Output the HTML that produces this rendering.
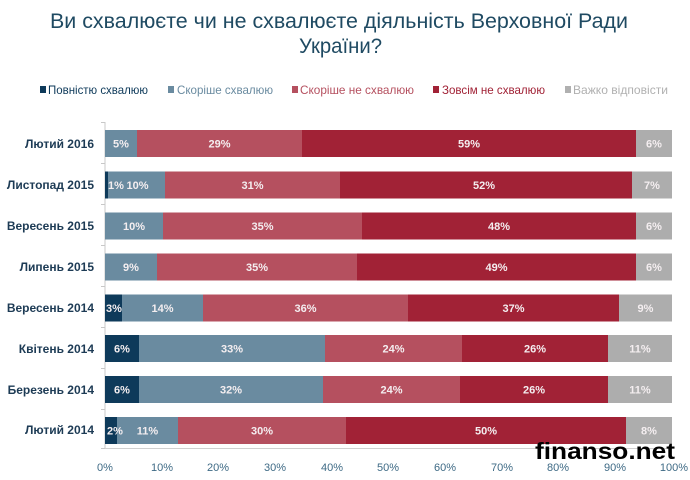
<!DOCTYPE html>
<html><head><meta charset="utf-8">
<style>
html,body{margin:0;padding:0;background:#fff;}
svg{display:block;}
text{font-family:"Liberation Sans","DejaVu Sans",sans-serif;}
</style></head>
<body>
<svg width="690" height="480" viewBox="0 0 690 480" xmlns="http://www.w3.org/2000/svg">
<rect width="690" height="480" fill="#fff"/>
<!-- Title -->
<text x="50" y="28" font-size="21" fill="#1f4a62" textLength="578" lengthAdjust="spacingAndGlyphs">Ви схвалюєте чи не схвалюєте діяльність Верховної Ради</text>
<text x="299" y="53" font-size="21" fill="#1f4a62" textLength="83" lengthAdjust="spacingAndGlyphs">України?</text>

<!-- Legend -->
<g font-size="12">
<rect x="40" y="86" width="6" height="7" fill="#0e3a5a"/>
<text x="48" y="94" fill="#0e3a5a" textLength="100" lengthAdjust="spacingAndGlyphs">Повністю схвалюю</text>
<rect x="168" y="86" width="6" height="7" fill="#6a8ba0"/>
<text x="177" y="94" fill="#6a8ba0" textLength="96" lengthAdjust="spacingAndGlyphs">Скоріше схвалюю</text>
<rect x="292" y="86" width="6" height="7" fill="#b5505f"/>
<text x="300" y="94" fill="#b5505f" textLength="114" lengthAdjust="spacingAndGlyphs">Скоріше не схвалюю</text>
<rect x="433" y="86" width="6" height="7" fill="#a12236"/>
<text x="442" y="94" fill="#a12236" textLength="103" lengthAdjust="spacingAndGlyphs">Зовсім не схвалюю</text>
<rect x="565" y="86" width="6" height="7" fill="#b0b0b0"/>
<text x="573" y="94" fill="#b0b0b0" textLength="95" lengthAdjust="spacingAndGlyphs">Важко відповісти</text>
</g>

<!-- Axes -->
<line x1="105" y1="122" x2="105" y2="449" stroke="#c8c8c8" stroke-width="1"/>
<line x1="105" y1="448.5" x2="672" y2="448.5" stroke="#d0d0d0" stroke-width="1"/>
<g stroke="#c8c8c8" stroke-width="1">
<line x1="101" y1="122.5" x2="105" y2="122.5"/>
<line x1="101" y1="163.5" x2="105" y2="163.5"/>
<line x1="101" y1="204.5" x2="105" y2="204.5"/>
<line x1="101" y1="245.5" x2="105" y2="245.5"/>
<line x1="101" y1="286.5" x2="105" y2="286.5"/>
<line x1="101" y1="327.5" x2="105" y2="327.5"/>
<line x1="101" y1="368.5" x2="105" y2="368.5"/>
<line x1="101" y1="409.5" x2="105" y2="409.5"/>
<line x1="101" y1="448.5" x2="105" y2="448.5"/>
</g>

<!-- Category labels -->
<g font-size="12" font-weight="bold" fill="#1d3b55" text-anchor="end">
<text x="94" y="148">Лютий 2016</text>
<text x="94" y="189">Листопад 2015</text>
<text x="94" y="230">Вересень 2015</text>
<text x="94" y="271">Липень 2015</text>
<text x="94" y="312">Вересень 2014</text>
<text x="94" y="353">Квітень 2014</text>
<text x="94" y="394">Березень 2014</text>
<text x="94" y="434">Лютий 2014</text>
</g>

<!-- Bars -->
<!-- Row 1 -->
<g>
<rect x="105" y="130" width="32" height="27" fill="#6a8ba0"/>
<rect x="137" y="130" width="165" height="27" fill="#b5505f"/>
<rect x="302" y="130" width="334" height="27" fill="#a12236"/>
<rect x="636" y="130" width="36" height="27" fill="#adadad"/>
</g>
<!-- Row 2 -->
<g>
<rect x="105" y="171.5" width="3" height="27" fill="#0e3a5a"/>
<rect x="108" y="171.5" width="57" height="27" fill="#6a8ba0"/>
<rect x="165" y="171.5" width="175" height="27" fill="#b5505f"/>
<rect x="340" y="171.5" width="292" height="27" fill="#a12236"/>
<rect x="632" y="171.5" width="40" height="27" fill="#adadad"/>
</g>
<!-- Row 3 -->
<g>
<rect x="105" y="212.5" width="58" height="27" fill="#6a8ba0"/>
<rect x="163" y="212.5" width="199" height="27" fill="#b5505f"/>
<rect x="362" y="212.5" width="274" height="27" fill="#a12236"/>
<rect x="636" y="212.5" width="36" height="27" fill="#adadad"/>
</g>
<!-- Row 4 -->
<g>
<rect x="105" y="253.5" width="52" height="27" fill="#6a8ba0"/>
<rect x="157" y="253.5" width="200" height="27" fill="#b5505f"/>
<rect x="357" y="253.5" width="279" height="27" fill="#a12236"/>
<rect x="636" y="253.5" width="36" height="27" fill="#adadad"/>
</g>
<!-- Row 5 -->
<g>
<rect x="105" y="294.5" width="17" height="27" fill="#0e3a5a"/>
<rect x="122" y="294.5" width="81" height="27" fill="#6a8ba0"/>
<rect x="203" y="294.5" width="205" height="27" fill="#b5505f"/>
<rect x="408" y="294.5" width="211" height="27" fill="#a12236"/>
<rect x="619" y="294.5" width="53" height="27" fill="#adadad"/>
</g>
<!-- Row 6 -->
<g>
<rect x="105" y="335" width="34" height="27" fill="#0e3a5a"/>
<rect x="139" y="335" width="186" height="27" fill="#6a8ba0"/>
<rect x="325" y="335" width="137" height="27" fill="#b5505f"/>
<rect x="462" y="335" width="146" height="27" fill="#a12236"/>
<rect x="608" y="335" width="64" height="27" fill="#adadad"/>
</g>
<!-- Row 7 -->
<g>
<rect x="105" y="376" width="34" height="27" fill="#0e3a5a"/>
<rect x="139" y="376" width="184" height="27" fill="#6a8ba0"/>
<rect x="323" y="376" width="137" height="27" fill="#b5505f"/>
<rect x="460" y="376" width="148" height="27" fill="#a12236"/>
<rect x="608" y="376" width="64" height="27" fill="#adadad"/>
</g>
<!-- Row 8 -->
<g>
<rect x="105" y="417" width="12" height="27" fill="#0e3a5a"/>
<rect x="117" y="417" width="61" height="27" fill="#6a8ba0"/>
<rect x="178" y="417" width="168" height="27" fill="#b5505f"/>
<rect x="346" y="417" width="280" height="27" fill="#a12236"/>
<rect x="626" y="417" width="46" height="27" fill="#adadad"/>
</g>

<!-- Bar labels -->
<g font-size="11" font-weight="bold" fill="#f4eef0" text-anchor="middle">
<text x="121" y="147.5">5%</text>
<text x="219.5" y="147.5">29%</text>
<text x="469" y="147.5">59%</text>
<text x="654" y="147.5">6%</text>

<text x="116" y="189">1%</text>
<text x="137.5" y="189">10%</text>
<text x="252.5" y="189">31%</text>
<text x="484" y="189">52%</text>
<text x="652" y="189">7%</text>

<text x="134" y="230">10%</text>
<text x="262.5" y="230">35%</text>
<text x="499" y="230">48%</text>
<text x="654" y="230">6%</text>

<text x="131" y="271">9%</text>
<text x="257" y="271">35%</text>
<text x="496.5" y="271">49%</text>
<text x="654" y="271">6%</text>

<text x="114" y="312">3%</text>
<text x="162.5" y="312">14%</text>
<text x="305.5" y="312">36%</text>
<text x="513.5" y="312">37%</text>
<text x="645.5" y="312">9%</text>

<text x="122" y="352.5">6%</text>
<text x="232" y="352.5">33%</text>
<text x="393.5" y="352.5">24%</text>
<text x="535" y="352.5">26%</text>
<text x="640" y="352.5">11%</text>

<text x="122" y="393.5">6%</text>
<text x="231" y="393.5">32%</text>
<text x="391.5" y="393.5">24%</text>
<text x="534" y="393.5">26%</text>
<text x="640" y="393.5">11%</text>

<text x="115" y="434.5">2%</text>
<text x="147.5" y="434.5">11%</text>
<text x="262" y="434.5">30%</text>
<text x="486" y="434.5">50%</text>
<text x="649" y="434.5">8%</text>
</g>

<!-- X tick labels -->
<g font-size="11" fill="#3e6a85" text-anchor="middle">
<text x="105" y="471">0%</text>
<text x="162" y="471">10%</text>
<text x="218" y="471">20%</text>
<text x="275" y="471">30%</text>
<text x="332" y="471">40%</text>
<text x="388" y="471">50%</text>
<text x="445" y="471">60%</text>
<text x="502" y="471">70%</text>
<text x="558" y="471">80%</text>
<text x="615" y="471">90%</text>
<text x="674" y="471">100%</text>
</g>

<!-- Watermark -->
<text x="535" y="459" font-size="23" font-weight="bold" fill="#000" textLength="140" lengthAdjust="spacingAndGlyphs">finanso.net</text>
</svg>
</body></html>
